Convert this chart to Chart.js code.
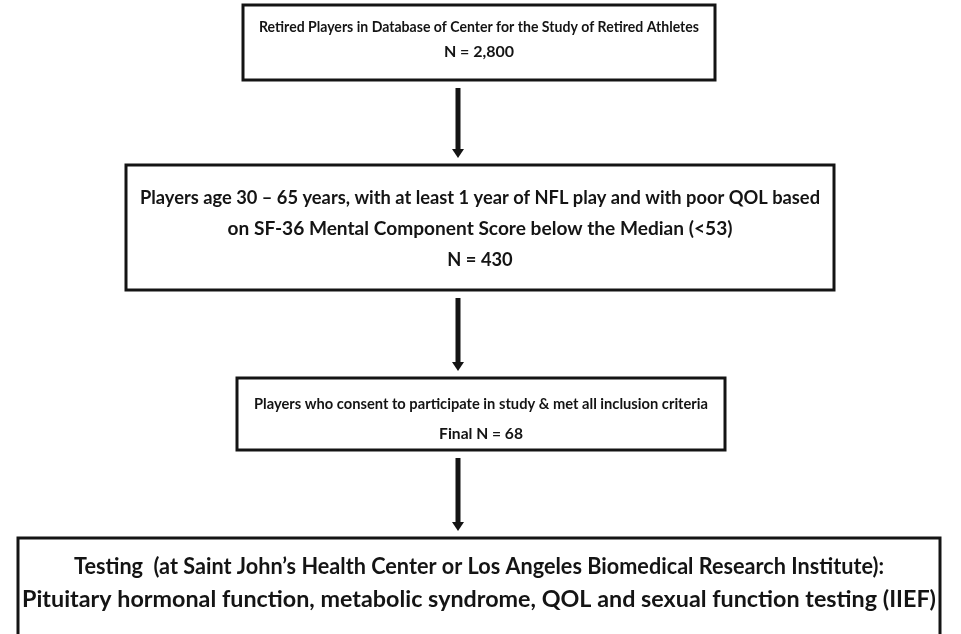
<!DOCTYPE html>
<html>
<head>
<meta charset="utf-8">
<script src="https://cdn.jsdelivr.net/npm/chart.js@4.4.1/dist/chart.umd.min.js"></script>
<style>
  html, body { margin: 0; padding: 0; background: #ffffff; }
  #wrap { width: 961px; height: 634px; }
</style>
</head>
<body>
<div id="wrap"><canvas id="c" width="961" height="634"></canvas></div>
<script>
// ---- content (data) ----
const stageText = [
  ["Retired Players in Database of Center for the Study of Retired Athletes"],
  ["Players age 30 \u2013 65 years, with at least 1 year of NFL play and with poor QOL based",
   "on SF-36 Mental Component Score below the Median (<53)"],
  ["Players who consent to participate in study & met all inclusion criteria"],
  ["Testing  (at Saint John\u2019s Health Center or Los Angeles Biomedical Research Institute):",
   "Pituitary hormonal function, metabolic syndrome, QOL and sexual function testing (IIEF)"]
];
const stageCountLabel = ["N = ", "N = ", "Final N = ", null];
const stageCounts = [2800, 430, 68, null];

// ---- layout (axis units, 0..961 by 0..634) ----
const boxLeft   = [243, 126, 237, 18];
const boxRight  = [715, 834, 725, 940];
const boxTop    = [5, 165, 378, 538];
const boxBottom = [80, 290, 450, 650];
const lineY     = [[27, 52], [198, 229, 260], [404, 434], [567, 600]];
const boxFont   = [16, 18.3, 15.6, 22.5];
const lineFit   = [[440, null], [680, 505, null], [454, null], [810, 914]];
const arrowX = 458;

function stageLines(i) {
  const lines = stageText[i].slice();
  if (stageCounts[i] !== null) {
    lines.push(stageCountLabel[i] + stageCounts[i].toLocaleString('en-US'));
  }
  return lines;
}

const flowPlugin = {
  id: 'flow',
  afterDraw(chart) {
    const ctx = chart.ctx;
    const xs = chart.scales.x, ys = chart.scales.y;
    ctx.save();
    ctx.fillStyle = '#ffffff';
    ctx.fillRect(0, 0, chart.width, chart.height);
    ctx.strokeStyle = '#141414';
    ctx.fillStyle = '#141414';
    for (let i = 0; i < stageText.length; i++) {
      const l = xs.getPixelForValue(boxLeft[i]);
      const r = xs.getPixelForValue(boxRight[i]);
      const t = ys.getPixelForValue(boxTop[i]);
      const b = ys.getPixelForValue(boxBottom[i]);
      ctx.lineWidth = 3;
      ctx.strokeRect(l, t, r - l, b - t);
      ctx.textAlign = 'center';
      ctx.textBaseline = 'middle';
      ctx.font = 'bold ' + boxFont[i] + 'px Lato, "Open Sans", sans-serif';
      const cx = (l + r) / 2;
      stageLines(i).forEach((s, k) => {
        const y = ys.getPixelForValue(lineY[i][k]);
        const target = lineFit[i][k];
        const w = ctx.measureText(s).width;
        const sx = target ? Math.min(1.1, target / w) : 1;
        ctx.save();
        ctx.translate(cx, y);
        ctx.scale(sx, 1);
        ctx.fillText(s, 0, 0);
        ctx.restore();
      });
      if (i < stageText.length - 1) {
        const ax = xs.getPixelForValue(arrowX);
        const y0 = ys.getPixelForValue(boxBottom[i] + 8);
        const y1 = ys.getPixelForValue(boxTop[i + 1] - 7);
        ctx.fillRect(ax - 2.5, y0, 5, (y1 - y0) - 8);
        ctx.beginPath();
        ctx.moveTo(ax - 6, y1 - 9);
        ctx.lineTo(ax + 6, y1 - 9);
        ctx.lineTo(ax, y1);
        ctx.closePath();
        ctx.fill();
      }
    }
    ctx.restore();
  }
};

new Chart(document.getElementById('c'), {
  type: 'scatter',
  data: { datasets: [{ data: [], pointRadius: 0 }] },
  options: {
    responsive: false,
    devicePixelRatio: 1,
    animation: false,
    layout: { padding: 0 },
    plugins: { legend: { display: false }, tooltip: { enabled: false } },
    scales: {
      x: { type: 'linear', min: 0, max: 961, display: false },
      y: { type: 'linear', min: 0, max: 634, reverse: true, display: false }
    }
  },
  plugins: [flowPlugin]
});
</script>
</body>
</html>
